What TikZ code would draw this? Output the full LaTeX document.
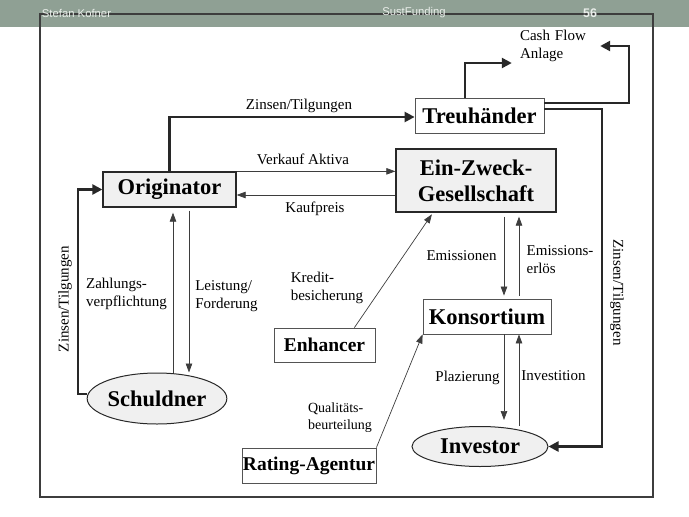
\documentclass[tikz,border=0pt]{standalone}
\usepackage{fontspec}
\setmainfont{Liberation Serif}
\newfontfamily\hdrfont{Liberation Sans}
\usepackage{xcolor}
\usepackage{tikz}
\usetikzlibrary{arrows.meta,positioning,shapes.geometric,calc}

\definecolor{hdrbar}{RGB}{143,160,148}
\definecolor{hdrtxt}{RGB}{234,238,234}
\definecolor{lightfill}{RGB}{240,240,240}
\definecolor{linecol}{RGB}{40,40,40}

\begin{document}
\begin{tikzpicture}[
	x=1pt, y=-1pt,
	box/.style={rectangle, draw=linecol!80, line width=0.8pt, fill=white, align=center, inner sep=0pt, font=\bfseries\fontsize{22.5}{26}\selectfont},
	gbox/.style={box, draw=linecol, line width=1.3pt, fill=lightfill},
	oval/.style={ellipse, draw=linecol, line width=1pt, fill=lightfill, inner sep=0pt, font=\bfseries\fontsize{22.5}{26}\selectfont},
	lbl/.style={inner sep=0pt, align=left, font=\fontsize{15}{18}\selectfont},
	hdr/.style={inner sep=0pt, text=hdrtxt, font=\hdrfont\fontsize{11.3}{13}\selectfont},
	thk/.style={draw=linecol, line width=2.4pt, -{Triangle[length=10pt,width=10pt]}},
	thn/.style={draw=linecol!90, line width=0.7pt, -{Triangle[length=9pt,width=6.5pt]}}
]
\useasboundingbox (0,0) rectangle (689,517);
\fill[hdrbar] (0,0) rectangle (689,26.5);
\draw[linecol!90, line width=2pt] (40,14) rectangle (653,497);
\node[hdr] (author) at (76.5,13) {Stefan Kofner};
\node[hdr] (title) at (414,13) {SustFunding};
\node[hdr, font=\hdrfont\bfseries\fontsize{12.5}{14}\selectfont] (page) at (590,13) {56};

% Beteiligte
\node[box, minimum width=129pt, minimum height=35pt] (treu) at (479.5,115.5) {Treuhänder};
\node[gbox, minimum width=133pt, minimum height=35pt] (orig) at (169.5,189.5) {Originator};
\node[gbox, minimum width=160pt, minimum height=63pt] (ezg) at (476,180.5) {Ein-Zweck-\\Gesellschaft};
\node[box, minimum width=128pt, minimum height=35pt] (kons) at (487,316.5) {Konsortium};
\node[box, minimum width=101pt, minimum height=34pt, font=\bfseries\fontsize{19.5}{23}\selectfont] (enh) at (324.5,345) {Enhancer};
\node[box, minimum width=134pt, minimum height=35pt, font=\bfseries\fontsize{19.5}{23}\selectfont] (rat) at (309,465.5) {Rating-Agentur};
\node[oval, minimum width=138pt, minimum height=51pt] (schu) at (157,398.5) {Schuldner};
\node[oval, minimum width=136pt, minimum height=40pt] (inv) at (480,446.5) {Investor};
\node[lbl, text width=72pt, inner xsep=8pt] (cfa) at (556,46) {Cash Flow\\Anlage};

% Hilfskoordinaten fuer die senkrechten Pfeile
\coordinate (loopR) at (629,46);
\coordinate (railR) at (602,0);
\coordinate (railL) at (78,0);
\coordinate (zv) at (173,0);
\coordinate (lf) at (189,0);
\coordinate (kp) at (0,195);
\coordinate (em) at (504,0);
\coordinate (er) at (519,0);

% Zahlungsstroeme (dick)
\draw[thk] (orig.north) |- ([yshift=-1.5pt]treu.west);
\draw[thk] ([xshift=-14.5pt]treu.north) |- ([yshift=-17pt]cfa.west);
\draw[thk] ([yshift=12.5pt]treu.east) -| (loopR) -- (loopR -| cfa.east);
\draw[thk] ([yshift=6.5pt]treu.east) -| (railR |- inv.east) -- (inv.east);
\draw[thk] ([yshift=4.5pt]schu.west) -| (railL |- orig.west) -- (orig.west);

% Beziehungen (duenn)
\draw[thn] (orig.north east) -- (orig.north east -| ezg.west);
\draw[thn] (kp -| ezg.west) -- (kp -| orig.east);
\draw[thn, shorten >=5pt] (zv |- schu.north) -- (zv |- orig.south);
\draw[thn, shorten <=3pt] (lf |- orig.south) -- (lf |- schu.north);
\draw[thn, shorten <=4pt, shorten >=3pt] (em |- ezg.south) -- (em |- kons.north);
\draw[thn, shorten <=3pt, shorten >=4pt] (er |- kons.north) -- (er |- ezg.south);
\draw[thn, shorten >=6pt] (em |- kons.south) -- (em |- inv.north);
\draw[thn] (er |- inv.north) -- (er |- kons.south);
\draw[thn, shorten >=2pt] ([xshift=-21pt]enh.north east) -- ([xshift=-43pt]ezg.south);
\draw[thn] (rat.north east) -- (kons.south west);

% Beschriftungen
\node[lbl] (lZtOben) at (299,105.5) {Zinsen/Tilgungen};
\node[lbl] (lVerkauf) at (303,159) {Verkauf Aktiva};
\node[lbl] (lKauf) at (315,208.5) {Kaufpreis};
\node[lbl, rotate=90] (lZtLinks) at (65,299) {Zinsen/Tilgungen};
\node[lbl, rotate=-90] (lZtRechts) at (617,292.5) {Zinsen/Tilgungen};
\node[lbl] (lZahl) at (126.5,293.5) {Zahlungs-\\verpflichtung};
\node[lbl] (lLeist) at (226.5,296) {Leistung/\\Forderung};
\node[lbl] (lKredit) at (327,288) {Kredit-\\besicherung};
\node[lbl] (lEmi) at (461.5,256) {Emissionen};
\node[lbl] (lErl) at (560,260) {Emissions-\\erlös};
\node[lbl] (lPlaz) at (467.5,377.5) {Plazierung};
\node[lbl] (lInv) at (553.5,376) {Investition};
\node[lbl, font=\fontsize{14}{17}\selectfont] (lQual) at (340,417.5) {Qualitäts-\\beurteilung};
\end{tikzpicture}
\end{document}
